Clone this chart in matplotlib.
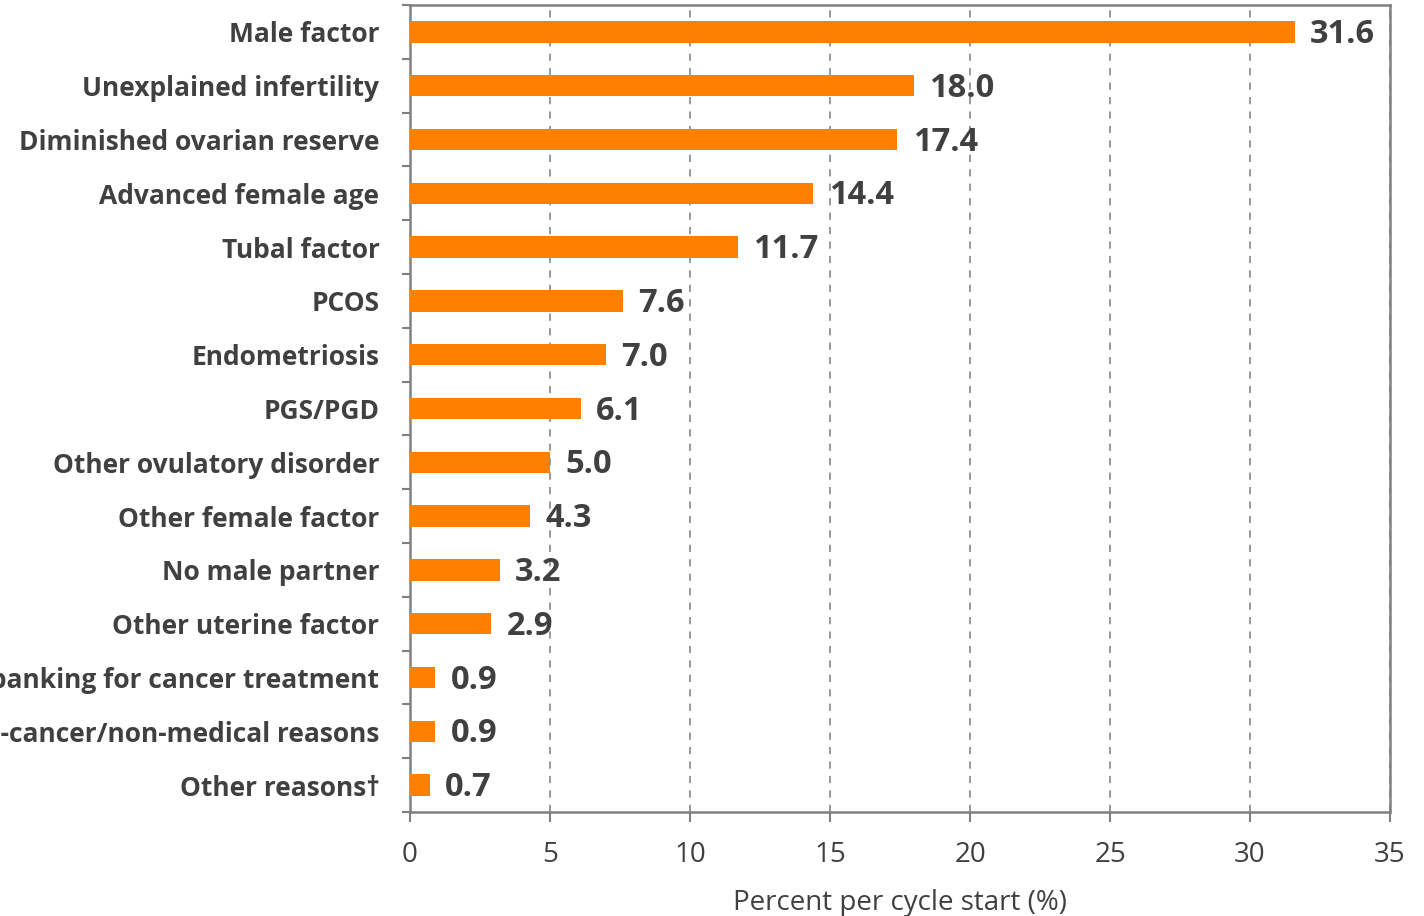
import matplotlib
matplotlib.use("Agg")
import matplotlib.pyplot as plt
import numpy as np

# data, top to bottom as shown
categories = [
    "Male factor",
    "Unexplained infertility",
    "Diminished ovarian reserve",
    "Advanced female age",
    "Tubal factor",
    "PCOS",
    "Endometriosis",
    "PGS/PGD",
    "Other ovulatory disorder",
    "Other female factor",
    "No male partner",
    "Other uterine factor",
    "Fertility preservation: banking for cancer treatment",
    "Fertility preservation: non-cancer/non-medical reasons",
    "Other reasons\u2020",
]
values = [31.6, 18.0, 17.4, 14.4, 11.7, 7.6, 7.0, 6.1, 5.0, 4.3, 3.2, 2.9, 0.9, 0.9, 0.7]
xticks = [0, 5, 10, 15, 20, 25, 30, 35]

text_col = "#404040"
bar_col = "#FF7F00"
spine_col = "#808080"

plt.rcParams["font.family"] = ["Open Sans", "DejaVu Sans"]

fig = plt.figure(figsize=(14.24, 9.16), dpi=100)
ax = fig.add_axes([410 / 1424, 1 - 812 / 916, 980 / 1424, 807 / 916])

n = len(categories)
y = np.arange(n)
ax.barh(y, values, height=0.4, color=bar_col, zorder=3)

ax.set_xlim(0, 35)
ax.set_ylim(n - 0.5, -0.5)

# value labels
for yi, v in zip(y, values):
    ax.text(v + 0.55, yi + 0.05, f"{v:.1f}", va="center", ha="left",
            fontsize=23.5, fontweight="bold", color=text_col, zorder=4)

# category labels at centres, tick marks at boundaries
ax.set_yticks(y)
ax.set_yticklabels(categories, fontsize=19, fontweight="bold", color=text_col)
ax.tick_params(axis="y", which="major", length=0, pad=22)
ax.set_yticks(np.arange(-0.5, n, 1.0), minor=True)
ax.tick_params(axis="y", which="minor", length=6, width=1.5, color=spine_col)

ax.set_xticks(xticks)
ax.set_xticklabels([str(t) for t in xticks], fontsize=20, color=text_col)
ax.tick_params(axis="x", which="major", length=7, width=1.5, color=spine_col, pad=14)
ax.set_xlabel("Percent per cycle start (%)", fontsize=20, color=text_col, labelpad=14)

ax.grid(axis="x", linestyle=(0, (4, 4)), color="#909090", linewidth=1.3, zorder=0)
for s in ax.spines.values():
    s.set_color(spine_col)
    s.set_linewidth(1.8)

fig.savefig("out.png", dpi=100)
